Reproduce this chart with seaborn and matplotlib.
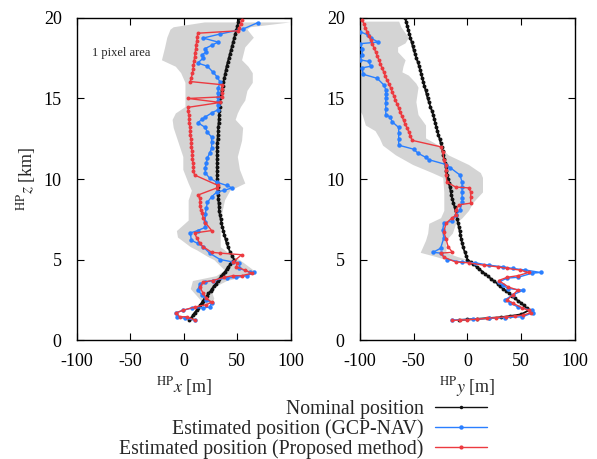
import numpy as np
import pandas as pd
import matplotlib
matplotlib.use("Agg")
import matplotlib.pyplot as plt
import seaborn as sns
from matplotlib.lines import Line2D

# ---- data (x or y offset in m, altitude in km) ----

# nominal trajectory, left panel (HPx)
nom_z_a = [20.0, 19.75, 19.5, 19.25, 19.0, 18.75, 18.5, 18.25, 18.0, 17.75, 17.5, 17.25, 17.0,
           16.75, 16.5, 16.25, 16.0, 15.75, 15.5, 15.25, 15.0, 14.75, 14.5, 14.25, 14.0,
           13.75, 13.5, 13.25, 13.0, 12.75, 12.5, 12.25, 12.0, 11.75, 11.5, 11.25, 11.0,
           10.75, 10.5, 10.25, 10.0, 9.75, 9.5, 9.25, 9.0, 8.75, 8.5, 8.25, 8.0, 7.75, 7.5,
           7.25, 7.0, 6.75, 6.5, 6.25, 6.0, 5.75, 5.5, 5.25, 5.0, 4.85, 4.7, 4.55, 4.4, 4.25,
           4.1, 3.95, 3.8, 3.65, 3.5, 3.35, 3.2, 3.05, 2.9, 2.75, 2.6, 2.45, 2.3, 2.15, 2.0,
           1.85, 1.7, 1.55, 1.4, 1.25]
nom_x = [52, 51, 50, 49, 48, 47, 46, 45, 44, 43, 42, 41, 40,
         39.2, 38.5, 37.7, 37, 36.2, 35.5, 34.7, 34, 33.8, 33.5, 33.2, 33,
         32.7, 32.5, 32.2, 32, 31.8, 31.5, 31.2, 31, 31, 31, 31, 31,
         31, 31, 31, 31, 31.2, 31.5, 31.7, 32, 32.2, 32.5, 32.7, 33, 33.7, 34.5,
         35.2, 36, 37, 38, 39, 40, 41.5, 43, 45, 47, 45, 43.5, 41.5, 40, 38.5,
         36.5, 35, 33, 31.5, 30, 28, 26.5, 25, 23, 21.5, 19.5, 18, 16.5, 15, 13.5,
         12, 10, 8.5, 7, 5]

# nominal trajectory, right panel (HPy)
nom_z_b = [20.0, 19.75, 19.5, 19.25, 19.0, 18.75, 18.5, 18.25, 18.0, 17.75, 17.5, 17.25, 17.0,
           16.75, 16.5, 16.25, 16.0, 15.75, 15.5, 15.25, 15.0, 14.75, 14.5, 14.25, 14.0,
           13.75, 13.5, 13.25, 13.0, 12.75, 12.5, 12.25, 12.0, 11.75, 11.5, 11.25, 11.0,
           10.75, 10.5, 10.25, 10.0, 9.75, 9.5, 9.25, 9.0, 8.75, 8.5, 8.25, 8.0, 7.75, 7.5,
           7.25, 7.0, 6.75, 6.5, 6.25, 6.0, 5.75, 5.5, 5.25, 5.0, 4.85, 4.7, 4.55, 4.4, 4.25,
           4.1, 3.95, 3.8, 3.65, 3.5, 3.35, 3.2, 3.05, 2.9, 2.75, 2.6, 2.45, 2.3, 2.15, 2.0,
           1.85, 1.6, 1.5, 1.42, 1.37, 1.32, 1.28, 1.25]
nom_y = [-58, -57, -56, -55, -54, -53, -52, -51, -50, -48.7, -47.5, -46.2, -45,
         -44, -43, -42, -41, -40, -39, -38, -37, -35.7, -34.5, -33.2, -32,
         -31, -30, -29, -28, -27, -26, -25, -24, -23.2, -22.5, -21.7, -21,
         -20.2, -19.5, -18.7, -18, -17.2, -16.5, -15.7, -15, -14, -13, -12, -11, -10.2, -9.5,
         -8.7, -8, -7.2, -6.5, -5.7, -5, -4, -2.7, -1.3, 0, 3, 5.5, 8.5, 11, 14,
         16.5, 19.5, 22, 25, 28, 30.5, 33, 36, 39, 41.5, 44, 47, 50, 52.5, 55,
         57, 50, 40, 31, 20, 9, 0, -8]

# GCP-NAV estimate, left panel
gcp_x = [69, 55, 34, 18, 32, 26, 20, 21, 17, 18, 13, 22, 27, 31, 34, 32, 32, 32, 32, 32, 32,
         26, 20, 17, 13, 20, 22, 26, 26, 26, 24, 22, 21, 20, 20, 24, 31, 40, 45, 38, 31, 26,
         22, 21, 20, 20, 20, 13, 6, 7, 13, 18, 24, 34, 46, 52, 52, 62, 66, 59, 49, 40, 27,
         20, 15, 13, 17, 21, 26, 24, 18, 8, -1, -7, -6, 1, 10]
gcp_z_a = [19.7, 19.3, 19.0, 18.75, 18.5, 18.3, 18.1, 17.9, 17.7, 17.5, 17.2, 17.0, 16.65, 16.35,
           16.0, 15.65, 15.35, 15.1, 14.85, 14.6, 14.3, 14.1, 13.85, 13.7, 13.5, 13.2, 12.9, 12.6,
           12.3, 11.9, 11.6, 11.3, 11.0, 10.7, 10.4, 10.05, 9.8, 9.6, 9.45, 9.3, 9.2, 8.9, 8.55,
           8.2, 7.8, 7.35, 7.0, 6.8, 6.65, 6.2, 6.0, 5.8, 5.4, 5.0, 4.85, 4.8, 4.45, 4.2, 4.2,
           4.0, 3.9, 3.85, 3.7, 3.6, 3.5, 3.1, 2.8, 2.5, 2.3, 2.05, 2.0, 2.0, 1.85, 1.7, 1.45,
           1.35, 1.25]

# proposed method, left panel
prop_x = [54, 53, 52, 51, 13, 12.5, 12, 11.5, 11, 10.5, 10, 9.5, 9, 8.5, 8, 7, 6,
          36, 36, 36, 36, 4, 34, 4, 4, 4.5, 5, 5, 5.5, 6, 6, 6.5, 7, 7, 7.5, 8, 8, 8.5, 9, 9,
          10, 32, 31, 13, 15, 15, 15, 16, 17, 18, 20, 26, 10, 12, 15, 18, 26, 34, 54, 46, 50,
          49, 57, 64, 54, 46, 38, 27, 18, 15, 18, 21, 26, 21, 10, -1, -7, -4, 3, 10]
prop_z_a = [19.9, 19.65, 19.4, 19.2, 19.05, 18.8, 18.55, 18.3, 18.05, 17.8, 17.55, 17.3, 17.05,
            16.8, 16.55, 16.3, 16.05, 15.85, 15.6, 15.35, 15.1, 15.0, 14.75, 14.45, 14.2, 14.0,
            13.75, 13.5, 13.25, 13.0, 12.75, 12.5, 12.25, 12.0, 11.75, 11.5, 11.25, 11.0, 10.75,
            10.5, 10.25, 9.6, 9.45, 9.0, 8.8, 8.55, 8.3, 8.1, 7.9, 7.6, 7.3, 6.8, 6.65, 6.35,
            6.0, 5.8, 5.45, 5.4, 5.3, 4.85, 4.8, 4.55, 4.35, 4.15, 4.0, 4.0, 3.9, 3.7, 3.6, 3.3,
            2.9, 2.6, 2.35, 2.2, 2.05, 1.85, 1.7, 1.45, 1.45, 1.25]

# GCP-NAV estimate, right panel
gcp_y = [-100, -93, -90, -83, -100, -98, -98, -100, -92, -90, -98, -97, -84, -78, -76, -76,
         -76, -76, -76, -76, -72, -70, -64, -64, -64, -64, -50, -46, -39, -36, -20, -16, -7,
         -5, -5, -5, -5, -5, -7, -11, -14, -22, -23, -22, -25, -32, -25, -19, -5, 7, 20, 33,
         42, 54, 68, 60, 47, 37, 29, 33, 38, 52, 42, 35, 40, 47, 60, 61, 51, 35, 20, 5, -14]
gcp_z_b = [19.15, 18.95, 18.75, 18.5, 18.4, 18.1, 17.7, 17.4, 17.3, 17.0, 16.9, 16.5, 16.25,
           15.85, 15.55, 15.3, 15.0, 14.7, 14.35, 14.0, 13.85, 13.55, 13.2, 12.85, 12.5, 12.1,
           11.85, 11.6, 11.35, 11.2, 10.9, 10.7, 10.25, 9.8, 9.5, 9.2, 8.85, 8.55, 8.05, 7.75,
           7.4, 7.25, 6.85, 6.35, 5.7, 5.45, 5.4, 5.0, 4.85, 4.8, 4.65, 4.55, 4.45, 4.35, 4.2,
           4.15, 3.9, 3.85, 3.6, 3.4, 3.2, 3.1, 2.8, 2.5, 2.3, 2.05, 1.85, 1.7, 1.45, 1.4,
           1.35, 1.3, 1.25]

# proposed method, right panel
prop_y = [-98, -96.5, -95, -93.5, -92, -90, -88.5, -87, -85.5, -84, -82.5, -81, -79.5, -78,
          -76.5, -75, -73, -71.5, -70, -68.5, -67, -65.5, -64, -62.5, -61, -59.5, -58, -56,
          -54.5, -53, -51.5, -25, -23, -22, -20, -20, -20, -19, -11, 1, 3, 3, 3, -8, -11, -11,
          -14, -20, -22, -20, -18, -14, -25, -22, -11, 1, 15, 28, 37, 49, 57, 47, 37, 29, 38,
          47, 42, 37, 42, 51, 57, 59, 52, 44, 36, 27, 18, 9, 0, -7, -14]
prop_z_b = [19.9, 19.65, 19.4, 19.15, 18.9, 18.65, 18.4, 18.15, 17.9, 17.65, 17.4, 17.15, 16.9,
            16.65, 16.4, 16.15, 15.9, 15.65, 15.4, 15.15, 14.9, 14.65, 14.4, 14.15, 13.9, 13.65,
            13.4, 13.15, 12.9, 12.65, 12.4, 12.0, 11.7, 11.2, 10.85, 10.55, 10.25, 9.8, 9.5,
            9.45, 9.2, 8.9, 8.5, 8.4, 8.05, 7.75, 7.6, 7.25, 6.7, 6.3, 5.8, 5.45, 5.4, 5.15,
            4.85, 4.8, 4.65, 4.55, 4.45, 4.35, 4.2, 4.0, 3.9, 3.7, 3.3, 3.1, 2.8, 2.5, 2.3, 2.0,
            1.85, 1.7, 1.55, 1.5, 1.45, 1.4, 1.35, 1.3, 1.27, 1.25, 1.22]

# "1 pixel area" envelopes
band_z_a = [19.75, 19.45, 19.3, 18.8, 18.2, 17.4, 17.0, 16.6, 16.0, 15.5, 14.9, 14.5, 14.1, 13.7,
            13.2, 12.4, 11.4, 10.6, 9.75, 9.3, 8.7, 7.45, 6.8, 6.4, 5.8, 5.6, 5.2, 5.0, 4.35,
            4.0, 3.7, 3.2, 2.6, 2.3]
band_lo_a = [19, -10, -13, -16, -18, -21, -8, -3, 1, 1, 1, 1, -8, -11, -10, -6, -1, -1, 4, 7,
             4, 4, -7, -6, 6, 12, 22, 28, 38, 30, 8, 6, 14, 18]
band_hi_a = [99, 62, 59, 65, 57, 54, 60, 64, 64, 59, 57, 53, 50, 48, 55, 54, 50, 52, 57, 43,
             38, 34, 34, 34, 34, 38, 46, 52, 65, 58, 40, 25, 28, 26]

band_z_b = [19.8, 19.45, 18.8, 18.45, 18.2, 17.9, 17.4, 17.0, 16.65, 16.45, 15.95, 15.7, 14.8,
            14.0, 13.35, 13.0, 12.55, 12.1, 11.5, 10.9, 10.4, 10.1, 9.2, 8.55, 8.05, 7.6, 7.25,
            6.65, 6.2, 5.45, 5.2, 5.0]
band_lo_b = [-105, -105, -105, -105, -105, -105, -105, -105, -105, -105, -105, -105, -105,
             -98, -95, -86, -82, -79, -67, -51, -33, -23, -22, -22, -22, -25, -36, -37, -39,
             -44, -30, -20]
band_hi_b = [-64, -62, -55, -58, -65, -65, -58, -60, -61, -55, -48, -46, -48, -46, -39, -39,
             -39, -27, -18, 1, 12, 14, 14, 5, 1, -5, -11, -14, -20, -20, -10, 0]

# ---- styling ----
sns.set_style("ticks")
plt.rcParams["font.family"] = ["Liberation Serif", "DejaVu Serif"]
plt.rcParams["mathtext.fontset"] = "stix"
plt.rcParams["axes.unicode_minus"] = False

BLACK = "#111111"
BLUE = "#2a7fff"
RED = "#ec3a40"
GRAY = "#d4d4d4"

fig = plt.figure(figsize=(5.97, 4.59), dpi=100)
ax1 = fig.add_axes([0.129, 0.259, 0.358, 0.702])
ax2 = fig.add_axes([0.603, 0.259, 0.360, 0.702])

panels = [
    (ax1, band_z_a, band_lo_a, band_hi_a, nom_x, nom_z_a, gcp_x, gcp_z_a, prop_x, prop_z_a,
     r"$^{\mathrm{HP}}x$ [m]"),
    (ax2, band_z_b, band_lo_b, band_hi_b, nom_y, nom_z_b, gcp_y, gcp_z_b, prop_y, prop_z_b,
     r"$^{\mathrm{HP}}y$ [m]"),
]

for ax, bz, blo, bhi, nx, nz, gx, gz, px, pz, xlabel in panels:
    ax.fill_betweenx(bz, blo, bhi, color=GRAY, lw=0, zorder=1)
    sns.lineplot(x=nx, y=nz, sort=False, estimator=None, ax=ax, color=BLACK, lw=1.3,
                 marker="o", markersize=2.8, markeredgewidth=0, zorder=3)
    sns.lineplot(x=gx, y=gz, sort=False, estimator=None, ax=ax, color=BLUE, lw=1.0,
                 marker="o", markersize=3.2, markeredgewidth=0, zorder=4)
    sns.lineplot(x=px, y=pz, sort=False, estimator=None, ax=ax, color=RED, lw=1.0,
                 marker="o", markersize=2.8, markeredgewidth=0, zorder=5)
    ax.set_xlim(-100, 100)
    ax.set_ylim(0, 20)
    ax.set_xticks([-100, -50, 0, 50, 100])
    ax.set_yticks([0, 5, 10, 15, 20])
    ax.tick_params(direction="in", top=True, right=True, length=5, width=0.8,
                   labelsize=13, colors="black")
    ax.tick_params(axis="x", pad=9)
    ax.tick_params(axis="y", pad=11)
    for s in ax.spines.values():
        s.set_linewidth(1.0)
        s.set_color("black")
    ax.set_xlabel(xlabel, fontsize=13, labelpad=4)
    ax.set_ylabel("")

ax1.set_ylabel(r"$^{\mathrm{HP}}z$ [km]", fontsize=13, labelpad=4)
ax1.text(-86, 17.8, "1 pixel area", fontsize=9, va="center", ha="left")

handles = [
    Line2D([], [], color=BLACK, lw=1.0, marker="o", markersize=2.5, markeredgewidth=0),
    Line2D([], [], color=BLUE, lw=1.0, marker="o", markersize=3.2, markeredgewidth=0),
    Line2D([], [], color=RED, lw=1.0, marker="o", markersize=3.0, markeredgewidth=0),
]
labels = ["Nominal position", "Estimated position (GCP-NAV)",
          "Estimated position (Proposed method)"]
fig.legend(handles, labels, loc="center right", bbox_to_anchor=(0.835, 0.064),
           markerfirst=False, frameon=False, fontsize=14.2, handlelength=2.6,
           labelspacing=0.0, handletextpad=0.6, borderpad=0.1)

fig.savefig("out.png", dpi=100)
